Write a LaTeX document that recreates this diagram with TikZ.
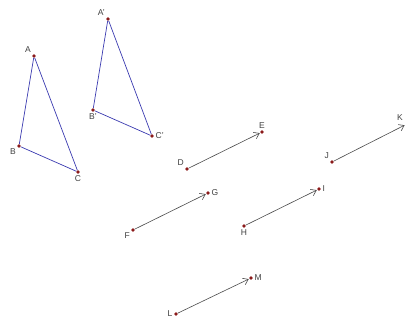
\documentclass[tikz,border=0pt]{standalone}
\usepackage{fontspec}
\setmainfont{Liberation Sans}
\usetikzlibrary{arrows.meta}

\definecolor{PointColor}{HTML}{8B1A1A}
\definecolor{SideColor}{HTML}{3A3AB0}
\definecolor{VecColor}{HTML}{4A4A4A}

\tikzset{
  pt/.style={circle,fill=PointColor,inner sep=0pt,minimum size=3.6pt},
  lbl/.style={font=\fontsize{8.5}{9}\selectfont,text=black!75,inner sep=1.5pt},
  side/.style={draw=SideColor,line width=0.7pt},
  vec/.style={draw=VecColor,line width=0.6pt,-{Straight Barb[length=5pt,width=7pt]},shorten >=0.5pt}
}

\begin{document}
\begin{tikzpicture}[x=1pt,y=-1pt]

  %–– Marco de la figura ––
  \useasboundingbox (0,0) rectangle (405,325);

  %–– Triángulo original ––
  \node[pt,label={[lbl]above left:A}] (A) at (34,56) {};
  \node[pt,label={[lbl]below left:B}] (B) at (19,146) {};
  \node[pt,label={[lbl]below:C}] (C) at (78,172) {};

  %–– Triángulo trasladado ––
  \node[pt,label={[lbl]above left:A'}] (A') at (108,19) {};
  \node[pt,label={[lbl]below:B'}] (B') at (93,110) {};
  \node[pt,label={[lbl]right:C'}] (C') at (152,136) {};

  \draw[side] (A) -- (B) -- (C) -- (A);
  \draw[side] (A') -- (B') -- (C') -- (A');

  %–– Vectores ––
  \node[pt,label={[lbl]above left:D}] (D) at (187,169) {};
  \node[pt,label={[lbl]above:E}] (E) at (262,132) {};

  \node[pt,label={[lbl]below left:F}] (F) at (133,230) {};
  \node[pt,label={[lbl]right:G}] (G) at (208,193) {};

  \node[pt,label={[lbl]below:H}] (H) at (244,226) {};
  \node[pt,label={[lbl]right:I}] (I) at (319,189) {};

  \node[pt,label={[lbl]above left:J}] (J) at (332,162) {};
  \coordinate (K) at (405,125);
  \node[lbl] (lK) at (400,118) {K};

  \node[pt,label={[lbl]left:L}] (L) at (176,314) {};
  \node[pt,label={[lbl]right:M}] (M) at (251,278) {};

  \foreach \p/\q in {D/E, F/G, H/I, J/K, L/M}{
    \draw[vec] (\p) -- (\q);
  }

\end{tikzpicture}
\end{document}
